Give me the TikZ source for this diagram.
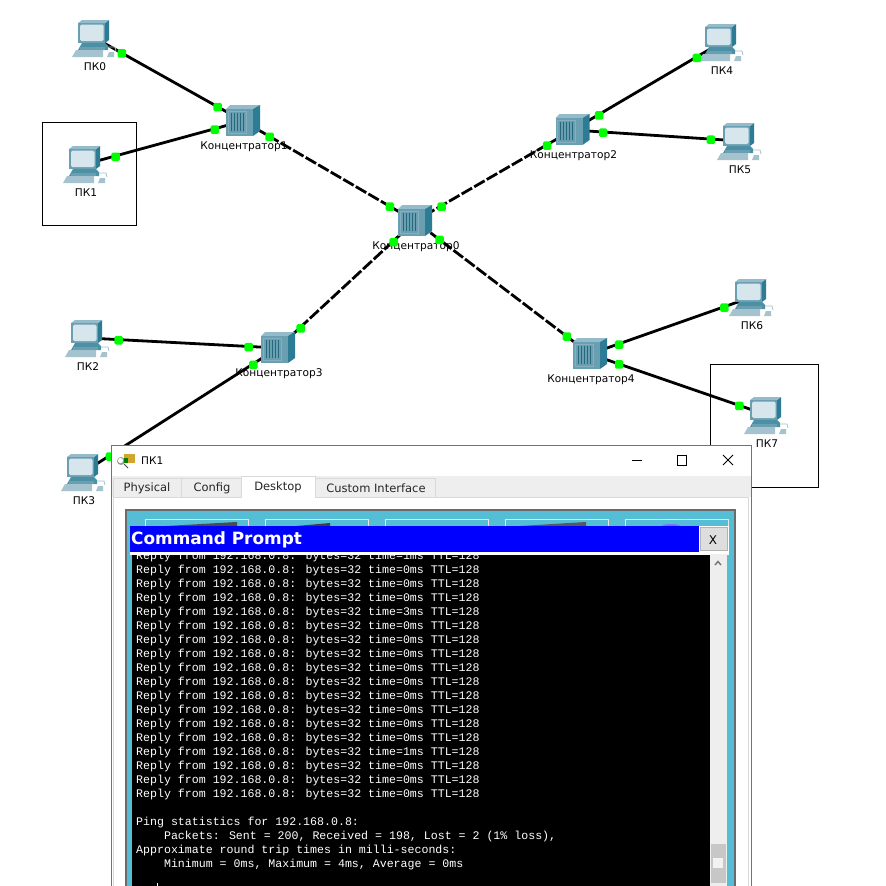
\documentclass[tikz,border=0pt]{standalone}
\usepackage{fontspec}
\setmainfont{DejaVu Sans}
\newfontfamily\replyfont{Liberation Mono}
\usetikzlibrary{calc}
\definecolor{devfront}{HTML}{6A9FB2}
\definecolor{devside}{HTML}{2C7C95}
\definecolor{devtop}{HTML}{93BBC9}
\definecolor{devpanel}{HTML}{86B0BF}
\definecolor{devscreen}{HTML}{D7E5EC}
\definecolor{devkeys}{HTML}{A4C3CF}
\definecolor{panelteal}{HTML}{55BDD6}
\definecolor{tabgray}{HTML}{EEEEEE}
\definecolor{iconcream}{HTML}{ECE6D5}
\tikzset{
	link/.style={line width=2.8pt, black},
	trunk/.style={link, dash pattern=on 12pt off 2.5pt},
	port/.style={fill=green, rounded corners=1.5pt, minimum size=8.5pt, inner sep=0pt},
	devlabel/.style={font=\fontsize{10.6}{12}\selectfont, inner sep=0pt},
	tablabel/.style={font=\fontsize{11.5}{13}\selectfont, inner sep=0pt, text=black!85},
	replyline/.style={font=\replyfont\fontsize{11.6}{14}\selectfont, text=white, anchor=west, inner sep=0pt},
	tabbox/.style={draw=black!15, fill=tabgray, line width=0.8pt},
	pc/.pic={
		\fill[devside] (10,-15) -- (14,-18) -- (14,2) -- (10,5) -- cycle;
		\fill[devtop] (-17,-15) -- (-13,-18) -- (14,-18) -- (10,-15) -- cycle;
		\fill[devfront] (-17,-15) rectangle (10,5);
		\fill[devscreen, rounded corners=1.5pt] (-15,-13.5) rectangle (8.5,3);
		\fill[devside!85] (-13,5) -- (10,5) -- (13,8) -- (13,12) -- (-17,12) -- cycle;
		\fill[devfront] (-15,9) rectangle (10,12);
		\fill[devkeys] (-19,12) -- (8,12) -- (8,19) -- (-23,19) -- cycle;
		\draw[devkeys, line width=0.8pt] (13,9) -- (20,9) -- (21,13);
		\fill[devkeys] (14,14) -- (19,14) -- (19,19) -- (12,19) -- cycle;
		},
	hub/.pic={
		\fill[devtop] (-17,-12) -- (-13,-16) -- (17,-16) -- (10,-12) -- cycle;
		\fill[devside] (10,-12) -- (17,-16) -- (17,10) -- (10,15) -- cycle;
		\fill[devfront] (-17,-12) rectangle (10,15);
		\draw[devpanel, line width=0.8pt] (-15,-10) rectangle (3,12);
		\foreach \s in {-12,-9,...,0}
		{	\draw[devside!85!black, line width=0.7pt] (\s,-8) -- (\s,10);
			}
		},
	}

\begin{document}
\begin{tikzpicture}
	[x=1pt, y=-1pt]
	\useasboundingbox (0,0) rectangle (886,886);
	\fill[white] (0,0) rectangle (886,886);
	\foreach \n/\x/\y in {pc0/95/38, pc1/86/164, pc2/88/338, pc3/84/472, pc4/722/42, pc5/740/141, pc6/752/297, pc7/767/415, hub0/415/221, hub1/243/121, hub2/572.5/130, hub3/278/348, hub4/590/354}
	{	\coordinate (\n) at (\x,\y);
		}
	% selected frames
	\draw[line width=0.8pt] (42.5,122.5) rectangle (136.5,225.5);
	\draw[line width=0.8pt] (710.5,364.5) rectangle (818.5,487.5);
	\foreach \a/\b in {pc0/hub1, pc1/hub1, pc2/hub3, pc3/hub3, pc4/hub2, pc5/hub2, pc6/hub4, pc7/hub4}
	{	\draw[link] (\a) -- (\b);
		}
	\foreach \a/\b in {hub1/hub0, hub2/hub0, hub3/hub0, hub4/hub0}
	{	\draw[trunk] (\a) -- (\b);
		}
	\foreach \n in {0,...,7}
	{	\draw (pc\n) pic {pc};
		\node[devlabel] (pc\n label) at ($(pc\n)+(0,28.7)$) {ПК\n};
		}
	\foreach \n in {0,...,4}
	{	\draw (hub\n) pic {hub};
		\node[devlabel] (hub\n label) at ($(hub\n)+(1,25.7)$) {Концентратор\n};
		}
	\foreach \a/\b in {pc0/hub1, pc1/hub1, pc2/hub3, pc3/hub3, pc4/hub2, pc5/hub2, pc6/hub4, pc7/hub4, hub1/hub0, hub2/hub0, hub3/hub0, hub4/hub0}
	{	\node[port] (\a\b) at ($(\a)!30pt!(\b)+(0.7,0.7)$) {};
		\node[port] (\b\a) at ($(\b)!30pt!(\a)+(0.7,0.7)$) {};
		}
	% window
	\fill[white, draw=black!55, line width=1pt] (111.5,445.5) -- (751.5,445.5) -- (751.5,886) -- (111.5,886) -- cycle;
	\fill[tabgray] (112,476) rectangle (751,497);
	\fill[white, draw=black!15, line width=0.8pt] (113.5,497.5) rectangle (748.5,886);
	\fill[black!40] (121,461) circle (4pt);
	\fill[white] (120.5,460.5) circle (2.6pt);
	\fill[brown!70!yellow] (124,454) rectangle (135,463);
	\fill[green!50!black] (124,458) rectangle (128,463);
	\draw[black!70, line width=1pt] (124,464) -- (128,468);
	\node[font=\fontsize{10.5}{12}\selectfont, anchor=west, inner sep=0pt] (wintitle) at (141,460.5) {ПК1};
	\draw[line width=1pt] (632,460.5) -- (642,460.5);
	\draw[line width=1pt] (677.5,455.5) rectangle (686.5,465.5);
	\draw[line width=0.9pt] (723,455) -- (733,465) (733,455) -- (723,465);
	\draw[tabbox] (113.5,478.5) rectangle (181.5,497);
	\draw[tabbox] (181.5,478.5) rectangle (241.5,497);
	\draw[tabbox] (315.5,478.5) rectangle (435.5,497);
	\fill[white, draw=black!15, line width=0.8pt] (241.5,497.5) -- (241.5,476.5) -- (315.5,476.5) -- (315.5,497.5);
	\node[tablabel] (tabphysical) at (147,488) {Physical};
	\node[tablabel] (tabconfig) at (212,488) {Config};
	\node[tablabel] (tabdesktop) at (278,487) {Desktop};
	\node[tablabel] (tabcustom) at (376,488) {Custom Interface};
	% desktop panel
	\fill[panelteal, draw=black!58, line width=2pt] (126,510) rectangle (735,887);
	\foreach \x in {145,265,385,505,625}
	{	\draw[draw=iconcream, line width=1.4pt] (\x.5,530) -- (\x.5,519.5) -- ($(\x.5,519.5)+(103,0)$) -- ($(\x.5,530)+(103,0)$);
		}
	\fill[black!70] (166,526) -- (237,522) -- (237,526) -- cycle;
	\fill[black!75] (296,526) -- (330,523) -- (330,526) -- cycle;
	\fill[black!65] (520,526) -- (586,522) -- (586,526) -- cycle;
	\fill[blue!55!white] (662,526) arc (180:0:9pt and 2pt) -- cycle;
	% terminal
	\fill[black] (132,552) rectangle (710,886);
	\foreach \y/\t in {556/1, 570/0, 584/0, 598/0, 612/3, 626/0, 640/0, 654/0, 668/0, 682/0, 696/0, 710/0, 724/0, 738/0, 752/1, 766/0, 780/0, 794/0}
	{	\node[replyline] (reply\y) at (136,\y) {Reply from 192.168.0.8: bytes=32 time=\t ms TTL=128};
		}
	\node[replyline] (pingstats) at (136,822) {Ping statistics for 192.168.0.8:};
	\node[replyline] (pingpackets) at (136,836) {\ \ \ \ Packets: Sent = 200, Received = 198, Lost = 2 (1\% loss),};
	\node[replyline] (pingapprox) at (136,850) {Approximate round trip times in milli-seconds:};
	\node[replyline] (pingtimes) at (136,864) {\ \ \ \ Minimum = 0ms, Maximum = 4ms, Average = 0ms};
	\fill[white] (157,883) rectangle (158,886);
	\fill[white] (130,526) rectangle (729,555);
	\fill[panelteal] (129,555) rectangle (132,886);
	\fill[blue] (130,526) rectangle (699,552);
	\node[font=\bfseries\fontsize{16.9}{20}\selectfont, text=white, anchor=west, inner sep=0pt] (cmdtitle) at (131,540) {Command Prompt};
	\fill[white] (699,526) rectangle (729,552);
	\fill[black!13, draw=black!30, line width=0.8pt] (700.5,527.5) rectangle (727.5,550.5);
	\node[font=\fontsize{12}{13}\selectfont, inner sep=0pt] (cmdclose) at (713,540) {X};
	\fill[tabgray] (710,554) rectangle (727,886);
	\draw[black!55, line width=1.4pt] (715,565) -- (718,561.5) -- (721,565);
	\fill[black!22] (711,844) rectangle (726,883);
	\fill[black!5] (713,858) rectangle (723,868);
\end{tikzpicture}
\end{document}
